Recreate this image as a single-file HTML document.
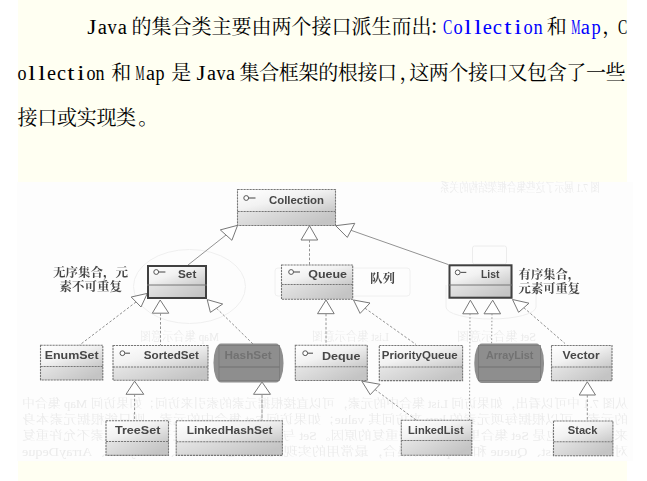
<!DOCTYPE html>
<html lang="zh-CN"><head><meta charset="utf-8"><title>Java 集合类</title>
<style>
html,body{margin:0;padding:0;background:#fff;}
body{width:647px;height:481px;position:relative;overflow:hidden;}
#cream{position:absolute;left:18px;top:0;width:609px;height:481px;background:#fffff2;}
#img{position:absolute;left:17px;top:182px;width:616px;height:279px;background:#fdfdfd;}
.ln{position:absolute;left:0;width:647px;height:30px;white-space:nowrap;color:#000;}
.ln span{position:absolute;top:0;white-space:nowrap;}
.c{font:20px/30px "Noto Serif CJK SC",serif;font-weight:400;}
.l{font:20px/30px "Liberation Serif",serif;text-align:left;margin-top:1px;}
.b{color:#0000ff;}
svg{position:absolute;left:0;top:0;}
.bt{font:bold 11.5px "Liberation Sans",sans-serif;fill:#464646;}
.ft{font:12px "Liberation Serif","Noto Serif CJK SC",serif;fill:#ebebeb;}
.an{font:bold 12.3px "Liberation Serif","Noto Serif CJK SC",serif;fill:#464646;}
</style></head><body>
<div id="cream"></div>
<div id="img"></div>
<div class="ln" style="top:11.0px"><span class="l " style="left:88.40px;width:7.78px;transform-origin:3.90px 50%;transform:scaleX(1.179);">J</span><span class="l " style="left:97.85px;width:8.88px;transform-origin:4.45px 50%;transform:scaleX(1.034);">a</span><span class="l " style="left:107.30px;width:10.00px;transform-origin:5.00px 50%;transform:scaleX(0.920);">v</span><span class="l " style="left:117.85px;width:8.88px;transform-origin:4.45px 50%;transform:scaleX(1.034);">a</span><span class="c " style="left:131.50px;letter-spacing:0.00px">的集合类主要由两个接口派生而出</span><span class="c pn" style="left:429.50px;letter-spacing:0.00px">：</span><span class="l b" style="left:440.95px;width:13.34px;transform-origin:6.65px 50%;transform:scaleX(0.692);">C</span><span class="l b" style="left:452.60px;width:10.00px;transform-origin:5.00px 50%;transform:scaleX(0.920);">o</span><span class="l b" style="left:464.80px;width:5.56px;transform-origin:2.80px 50%;transform:scaleX(1.300);">l</span><span class="l b" style="left:474.80px;width:5.56px;transform-origin:2.80px 50%;transform:scaleX(1.300);">l</span><span class="l b" style="left:483.15px;width:8.88px;transform-origin:4.45px 50%;transform:scaleX(1.034);">e</span><span class="l b" style="left:493.15px;width:8.88px;transform-origin:4.45px 50%;transform:scaleX(1.034);">c</span><span class="l b" style="left:504.80px;width:5.56px;transform-origin:2.80px 50%;transform:scaleX(1.300);">t</span><span class="l b" style="left:514.80px;width:5.56px;transform-origin:2.80px 50%;transform:scaleX(1.300);">i</span><span class="l b" style="left:522.60px;width:10.00px;transform-origin:5.00px 50%;transform:scaleX(0.920);">o</span><span class="l b" style="left:532.60px;width:10.00px;transform-origin:5.00px 50%;transform:scaleX(0.920);">n</span><span class="c " style="left:546.80px;letter-spacing:0.00px">和</span><span class="l b" style="left:566.70px;width:17.78px;transform-origin:8.90px 50%;transform:scaleX(0.517);">M</span><span class="l b" style="left:581.15px;width:8.88px;transform-origin:4.45px 50%;transform:scaleX(1.034);">a</span><span class="l b" style="left:590.60px;width:10.00px;transform-origin:5.00px 50%;transform:scaleX(0.920);">p</span><span class="c pn" style="left:602.30px;letter-spacing:0.00px">，</span><span class="l " style="left:615.65px;width:13.34px;transform-origin:6.65px 50%;transform:scaleX(0.692);">C</span></div>
<div class="ln" style="top:56.6px"><span class="l " style="left:16.90px;width:10.00px;transform-origin:5.00px 50%;transform:scaleX(0.902);">o</span><span class="l " style="left:28.90px;width:5.56px;transform-origin:2.80px 50%;transform:scaleX(1.300);">l</span><span class="l " style="left:38.70px;width:5.56px;transform-origin:2.80px 50%;transform:scaleX(1.300);">l</span><span class="l " style="left:46.85px;width:8.88px;transform-origin:4.45px 50%;transform:scaleX(1.013);">e</span><span class="l " style="left:56.65px;width:8.88px;transform-origin:4.45px 50%;transform:scaleX(1.013);">c</span><span class="l " style="left:68.10px;width:5.56px;transform-origin:2.80px 50%;transform:scaleX(1.300);">t</span><span class="l " style="left:77.90px;width:5.56px;transform-origin:2.80px 50%;transform:scaleX(1.300);">i</span><span class="l " style="left:85.50px;width:10.00px;transform-origin:5.00px 50%;transform:scaleX(0.902);">o</span><span class="l " style="left:95.30px;width:10.00px;transform-origin:5.00px 50%;transform:scaleX(0.902);">n</span><span class="c " style="left:111.20px;letter-spacing:0.00px">和</span><span class="l " style="left:131.40px;width:17.78px;transform-origin:8.90px 50%;transform:scaleX(0.507);">M</span><span class="l " style="left:145.65px;width:8.88px;transform-origin:4.45px 50%;transform:scaleX(1.013);">a</span><span class="l " style="left:154.90px;width:10.00px;transform-origin:5.00px 50%;transform:scaleX(0.902);">p</span><span class="c " style="left:171.20px;letter-spacing:0.00px">是</span><span class="l " style="left:197.40px;width:7.78px;transform-origin:3.90px 50%;transform:scaleX(1.156);">J</span><span class="l " style="left:206.65px;width:8.88px;transform-origin:4.45px 50%;transform:scaleX(1.013);">a</span><span class="l " style="left:215.90px;width:10.00px;transform-origin:5.00px 50%;transform:scaleX(0.902);">v</span><span class="l " style="left:226.25px;width:8.88px;transform-origin:4.45px 50%;transform:scaleX(1.013);">a</span><span class="c " style="left:239.60px;letter-spacing:-0.36px">集合框架的根接口</span><span class="c pn" style="left:399.50px;letter-spacing:0.00px">，</span><span class="c " style="left:409.20px;letter-spacing:-0.36px">这两个接口又包含了一些</span></div>
<div class="ln" style="top:102.2px"><span class="c " style="left:17.60px;letter-spacing:-0.30px">接口或实现类</span><span class="c pn" style="left:138.30px;letter-spacing:0.00px">。</span></div>

<svg width="647" height="481" viewBox="0 0 647 481">
<defs>
<linearGradient id="g1" x1="0" y1="0" x2="1" y2="1">
<stop offset="0" stop-color="#ffffff"/><stop offset="0.45" stop-color="#f2f2f2"/><stop offset="1" stop-color="#c8c8c8"/>
</linearGradient>
<linearGradient id="g2" x1="0" y1="0" x2="1" y2="0.4">
<stop offset="0" stop-color="#e6e6e6"/><stop offset="1" stop-color="#c4c4c4"/>
</linearGradient>
<linearGradient id="fg" x1="0" y1="0" x2="1" y2="0"><stop offset="0" stop-color="#f3f3f3"/><stop offset="0.15" stop-color="#e9e9e9"/><stop offset="0.5" stop-color="#eaeaea"/><stop offset="0.75" stop-color="#f4f4f4"/><stop offset="1" stop-color="#f9f9f9"/></linearGradient>
<filter id="soft" x="0" y="0" width="647" height="481" filterUnits="userSpaceOnUse"><feGaussianBlur stdDeviation="0.35"/></filter>
<filter id="bl" x="-10%" y="-10%" width="120%" height="120%"><feGaussianBlur stdDeviation="0.6"/></filter>
</defs>
<g filter="url(#soft)">
<g transform="translate(650.0,0) scale(-1,1)"><text x="22" y="407.6" textLength="606.0" lengthAdjust="spacingAndGlyphs" class="ft" fill="url(#fg)">从图 7.1 中可以看出，如果访问 List 集合中的元素，可以直接根据元素的索引来访问；如果访问 Map 集合中</text></g>
<g transform="translate(650.0,0) scale(-1,1)"><text x="22" y="423.8" textLength="606.0" lengthAdjust="spacingAndGlyphs" class="ft" fill="url(#fg)">的元素，可以根据每项元素的 key 来访问其 value；如果访问 Set 集合中的元素，则只能根据元素本身</text></g>
<g transform="translate(650.0,0) scale(-1,1)"><text x="22" y="439.8" textLength="606.0" lengthAdjust="spacingAndGlyphs" class="ft" fill="url(#fg)">来访问，这也是 Set 集合里元素不允许重复的原因。Set 与 List 的不同之处在于集合里元素不允许重复</text></g>
<g transform="translate(650.0,0) scale(-1,1)"><text x="22" y="455.6" textLength="606.0" lengthAdjust="spacingAndGlyphs" class="ft" fill="url(#fg)">对于 Set、List、Queue 和 Map 四种集合，最常用的实现类分别是 HashSet、ArrayList、ArrayDeque</text></g>
<g transform="translate(1040.0,0) scale(-1,1)"><text x="440" y="192.0" textLength="160.0" lengthAdjust="spacingAndGlyphs" class="ft">图 7.1 展示了这些集合框架结构的关系</text></g>
<g transform="translate(359.0,0) scale(-1,1)"><text x="140" y="341.0" textLength="79.0" lengthAdjust="spacingAndGlyphs" class="ft">Map 集合示意图</text></g>
<g transform="translate(701.0,0) scale(-1,1)"><text x="312" y="341.0" textLength="77.0" lengthAdjust="spacingAndGlyphs" class="ft">List 集合示意图</text></g>
<g transform="translate(993.0,0) scale(-1,1)"><text x="457" y="341.0" textLength="79.0" lengthAdjust="spacingAndGlyphs" class="ft" fill="#dedede">Set 集合示意图</text></g>
<ellipse cx="189.5" cy="286.5" rx="56" ry="37" fill="none" stroke="#efefef" stroke-width="1"/>
<rect x="472.5" y="246" width="34" height="18" rx="2" fill="none" stroke="#ececec" stroke-width="1"/>
<path d="M446 285 V307 A45 12 0 0 0 536 307 V285" fill="none" stroke="#eeeeee" stroke-width="1"/>
<rect x="275" y="268" width="135" height="28" rx="3" fill="none" stroke="#f0f0f0" stroke-width="1"/>
<line x1="188" y1="265" x2="226" y2="235" stroke="#929292" stroke-width="1"/>
<polygon points="237.6,225.3 220.3,229.9 231.9,240.3" fill="#fff" stroke="#777" stroke-width="1"/>
<polygon points="309.5,225.7 301,240 317.7,240" fill="#fff" stroke="#777" stroke-width="1"/>
<line x1="309.5" y1="240" x2="309.5" y2="265" stroke="#929292" stroke-width="1" stroke-dasharray="2.6 1.8"/>
<line x1="351" y1="230.3" x2="448.2" y2="264.5" stroke="#929292" stroke-width="1"/>
<polygon points="335.7,225.7 354.8,223.3 347.3,237.4" fill="#fff" stroke="#777" stroke-width="1"/>
<line x1="136" y1="302" x2="79.3" y2="345.3" stroke="#929292" stroke-width="1" stroke-dasharray="2.6 1.8"/>
<polygon points="147.3,293.4 131.2,297 141,307" fill="#fff" stroke="#777" stroke-width="1"/>
<polygon points="160.2,300 152.3,313.2 168.8,313.2" fill="#fff" stroke="#777" stroke-width="1"/>
<line x1="160.5" y1="313.2" x2="160.5" y2="345.5" stroke="#929292" stroke-width="1" stroke-dasharray="2.6 1.8"/>
<line x1="216.5" y1="308.2" x2="253" y2="344" stroke="#929292" stroke-width="1" stroke-dasharray="2.6 1.8"/>
<polygon points="207.2,299.6 222.7,304 210.4,312.4" fill="#fff" stroke="#777" stroke-width="1"/>
<polygon points="326,300 317.5,313.7 334.2,313.7" fill="#fff" stroke="#777" stroke-width="1"/>
<line x1="326" y1="313.7" x2="326" y2="345.3" stroke="#929292" stroke-width="1" stroke-dasharray="2.6 1.8"/>
<line x1="365" y1="308.2" x2="416" y2="344.5" stroke="#929292" stroke-width="1" stroke-dasharray="2.6 1.8"/>
<polygon points="353.5,300 370,303 360.1,313.4" fill="#fff" stroke="#777" stroke-width="1"/>
<polygon points="470.4,300.2 462.7,313.8 478.3,313.8" fill="#fff" stroke="#777" stroke-width="1"/>
<line x1="470" y1="313.8" x2="469.5" y2="420" stroke="#929292" stroke-width="1" stroke-dasharray="1.5 2"/>
<polygon points="492.7,300.2 484,313.8 500.6,313.8" fill="#fff" stroke="#777" stroke-width="1"/>
<line x1="492" y1="313.8" x2="491.6" y2="344" stroke="#929292" stroke-width="1" stroke-dasharray="1.5 2"/>
<line x1="523.8" y1="307.7" x2="565" y2="343.5" stroke="#929292" stroke-width="1" stroke-dasharray="2.6 1.8"/>
<polygon points="512.5,299.5 529,303.2 518.6,312.3" fill="#fff" stroke="#777" stroke-width="1"/>
<polygon points="134.6,381.2 126,394.3 143.8,394.3" fill="#fff" stroke="#777" stroke-width="1"/>
<line x1="134.6" y1="394.3" x2="134.6" y2="420.8" stroke="#929292" stroke-width="1" stroke-dasharray="2.6 1.8"/>
<polygon points="262,382 253.5,394.3 270.5,394.3" fill="#fff" stroke="#777" stroke-width="1"/>
<line x1="262" y1="394.3" x2="262" y2="420.8" stroke="#929292" stroke-width="1" stroke-dasharray="4 1"/>
<line x1="375" y1="389.5" x2="416" y2="420" stroke="#929292" stroke-width="1" stroke-dasharray="2.6 1.8"/>
<polygon points="361.8,381.1 380,384.3 370.2,394.7" fill="#fff" stroke="#777" stroke-width="1"/>
<polygon points="587.3,381.8 579.2,395 595.5,395" fill="#fff" stroke="#777" stroke-width="1"/>
<line x1="587.3" y1="395" x2="587.3" y2="421" stroke="#929292" stroke-width="1" stroke-dasharray="2.6 1.8"/>
<rect x="237.5" y="189.5" width="98.0" height="22.0" fill="url(#g1)"/><rect x="237.5" y="211.5" width="98.0" height="14.0" fill="url(#g2)"/><rect x="237.5" y="189.5" width="98.0" height="36.0" fill="none" stroke="#777" stroke-width="1.1" stroke-dasharray="2.2 0.8"/><line x1="237.5" y1="211.5" x2="335.5" y2="211.5" stroke="#777" stroke-width="1.1" stroke-dasharray="2.2 0.8"/><circle cx="246.2" cy="198" r="2.4" fill="#fff" stroke="#555" stroke-width="1"/><line x1="248.9" y1="198" x2="255.5" y2="198" stroke="#555" stroke-width="1.1"/><text x="269" y="204" textLength="55.0" lengthAdjust="spacingAndGlyphs" class="bt">Collection</text>
<rect x="147" y="265" width="60" height="20" fill="url(#g1)"/><rect x="147" y="285" width="60" height="14" fill="url(#g2)"/><rect x="148" y="266" width="58" height="32" fill="none" stroke="#404040" stroke-width="2"/><line x1="147" y1="285" x2="207" y2="285" stroke="#777" stroke-width="1"/><circle cx="156.2" cy="272" r="2.4" fill="#fff" stroke="#555" stroke-width="1"/><line x1="158.9" y1="272" x2="165.4" y2="272" stroke="#555" stroke-width="1.1"/><text x="178" y="278" textLength="18.3" lengthAdjust="spacingAndGlyphs" class="bt">Set</text>
<rect x="281.5" y="265" width="71.19999999999999" height="19.5" fill="url(#g1)"/><rect x="281.5" y="284.5" width="71.19999999999999" height="14.800000000000011" fill="url(#g2)"/><rect x="281.5" y="265" width="71.19999999999999" height="34.30000000000001" fill="none" stroke="#777" stroke-width="1.1" stroke-dasharray="2.2 0.8"/><line x1="281.5" y1="284.5" x2="352.7" y2="284.5" stroke="#777" stroke-width="1.1" stroke-dasharray="2.2 0.8"/><circle cx="291.1" cy="272" r="2.4" fill="#fff" stroke="#555" stroke-width="1"/><line x1="293.8" y1="272" x2="300" y2="272" stroke="#555" stroke-width="1.1"/><text x="308.2" y="278.3" textLength="38.8" lengthAdjust="spacingAndGlyphs" class="bt">Queue</text>
<rect x="448.5" y="264.3" width="64.0" height="20.69999999999999" fill="url(#g1)"/><rect x="448.5" y="285" width="64.0" height="13.699999999999989" fill="url(#g2)"/><rect x="449.5" y="265.3" width="62.0" height="32.39999999999998" fill="none" stroke="#404040" stroke-width="2"/><line x1="448.5" y1="285" x2="512.5" y2="285" stroke="#777" stroke-width="1"/><circle cx="457.7" cy="272.4" r="2.4" fill="#fff" stroke="#555" stroke-width="1"/><line x1="460.4" y1="272.4" x2="466.3" y2="272.4" stroke="#555" stroke-width="1.1"/><text x="481" y="278" textLength="18.4" lengthAdjust="spacingAndGlyphs" class="bt">List</text>
<rect x="40.5" y="345.3" width="62.3" height="21.19999999999999" fill="url(#g1)"/><rect x="40.5" y="366.5" width="62.3" height="13.5" fill="url(#g2)"/><rect x="40.5" y="345.3" width="62.3" height="34.69999999999999" fill="none" stroke="#777" stroke-width="1.1" stroke-dasharray="2.2 0.8"/><line x1="40.5" y1="366.5" x2="102.8" y2="366.5" stroke="#777" stroke-width="1.1" stroke-dasharray="2.2 0.8"/><text x="44.7" y="359.3" textLength="53.9" lengthAdjust="spacingAndGlyphs" class="bt">EnumSet</text>
<rect x="113" y="345.5" width="95" height="21.5" fill="url(#g1)"/><rect x="113" y="367" width="95" height="13.199999999999989" fill="url(#g2)"/><rect x="113" y="345.5" width="95" height="34.69999999999999" fill="none" stroke="#777" stroke-width="1.1" stroke-dasharray="2.2 0.8"/><line x1="113" y1="367" x2="208" y2="367" stroke="#777" stroke-width="1.1" stroke-dasharray="2.2 0.8"/><circle cx="122.4" cy="353.2" r="2.4" fill="#fff" stroke="#555" stroke-width="1"/><line x1="125.1" y1="353.2" x2="130" y2="353.2" stroke="#555" stroke-width="1.1"/><text x="143.8" y="359.2" textLength="55.2" lengthAdjust="spacingAndGlyphs" class="bt">SortedSet</text>
<rect x="213.5" y="343.5" width="70.0" height="39.0" rx="7.5" ry="19" fill="#8e8e8e" filter="url(#bl)"/><rect x="219" y="345.5" width="60.5" height="35.0" fill="none" stroke="#7a7a7a" stroke-width="0.8"/><line x1="219" y1="367" x2="279.5" y2="367" stroke="#707070" stroke-width="1"/><text x="224.6" y="359.3" textLength="47.0" lengthAdjust="spacingAndGlyphs" class="bt" style="fill:#727272">HashSet</text>
<rect x="295.3" y="345.3" width="72.0" height="21.5" fill="url(#g1)"/><rect x="295.3" y="366.8" width="72.0" height="13.699999999999989" fill="url(#g2)"/><rect x="295.3" y="345.3" width="72.0" height="35.19999999999999" fill="none" stroke="#777" stroke-width="1.1" stroke-dasharray="2.2 0.8"/><line x1="295.3" y1="366.8" x2="367.3" y2="366.8" stroke="#777" stroke-width="1.1" stroke-dasharray="2.2 0.8"/><circle cx="305.2" cy="353.2" r="2.4" fill="#fff" stroke="#555" stroke-width="1"/><line x1="307.9" y1="353.2" x2="313" y2="353.2" stroke="#555" stroke-width="1.1"/><text x="322" y="359.5" textLength="38.4" lengthAdjust="spacingAndGlyphs" class="bt">Deque</text>
<rect x="379.3" y="345.5" width="83.30000000000001" height="21.5" fill="url(#g1)"/><rect x="379.3" y="367" width="83.30000000000001" height="13.600000000000023" fill="url(#g2)"/><rect x="379.3" y="345.5" width="83.30000000000001" height="35.10000000000002" fill="none" stroke="#777" stroke-width="1.1" stroke-dasharray="2.2 0.8"/><line x1="379.3" y1="367" x2="462.6" y2="367" stroke="#777" stroke-width="1.1" stroke-dasharray="2.2 0.8"/><text x="381.8" y="359" textLength="75.9" lengthAdjust="spacingAndGlyphs" class="bt">PriorityQueue</text>
<rect x="474.3" y="343.5" width="69.69999999999999" height="39.5" rx="7.5" ry="19" fill="#8e8e8e" filter="url(#bl)"/><rect x="478.5" y="345.5" width="61.89999999999998" height="35.0" fill="none" stroke="#7a7a7a" stroke-width="0.8"/><line x1="478.5" y1="367" x2="540.4" y2="367" stroke="#707070" stroke-width="1"/><text x="486" y="359" textLength="47.4" lengthAdjust="spacingAndGlyphs" class="bt" style="fill:#727272">ArrayList</text>
<rect x="551.5" y="345.5" width="60.5" height="21.5" fill="url(#g1)"/><rect x="551.5" y="367" width="60.5" height="13.600000000000023" fill="url(#g2)"/><rect x="551.5" y="345.5" width="60.5" height="35.10000000000002" fill="none" stroke="#777" stroke-width="1.1" stroke-dasharray="2.2 0.8"/><line x1="551.5" y1="367" x2="612" y2="367" stroke="#777" stroke-width="1.1" stroke-dasharray="2.2 0.8"/><text x="562.6" y="359" textLength="37.1" lengthAdjust="spacingAndGlyphs" class="bt">Vector</text>
<rect x="106" y="420.8" width="62.5" height="20.69999999999999" fill="url(#g1)"/><rect x="106" y="441.5" width="62.5" height="13.899999999999977" fill="url(#g2)"/><rect x="106" y="420.8" width="62.5" height="34.599999999999966" fill="none" stroke="#777" stroke-width="1.1" stroke-dasharray="2.2 0.8"/><line x1="106" y1="441.5" x2="168.5" y2="441.5" stroke="#777" stroke-width="1.1" stroke-dasharray="2.2 0.8"/><text x="115" y="434.4" textLength="45.4" lengthAdjust="spacingAndGlyphs" class="bt">TreeSet</text>
<rect x="176.2" y="420.8" width="106.19999999999999" height="21.0" fill="url(#g1)"/><rect x="176.2" y="441.8" width="106.19999999999999" height="13.599999999999966" fill="url(#g2)"/><rect x="176.2" y="420.8" width="106.19999999999999" height="34.599999999999966" fill="none" stroke="#777" stroke-width="1.1" stroke-dasharray="2.2 0.8"/><line x1="176.2" y1="441.8" x2="282.4" y2="441.8" stroke="#777" stroke-width="1.1" stroke-dasharray="2.2 0.8"/><text x="186.7" y="434.4" textLength="85.8" lengthAdjust="spacingAndGlyphs" class="bt">LinkedHashSet</text>
<rect x="401.3" y="420.2" width="70.5" height="20.30000000000001" fill="url(#g1)"/><rect x="401.3" y="440.5" width="70.5" height="14.800000000000011" fill="url(#g2)"/><rect x="401.3" y="420.2" width="70.5" height="35.10000000000002" fill="none" stroke="#777" stroke-width="1.1" stroke-dasharray="2.2 0.8"/><line x1="401.3" y1="440.5" x2="471.8" y2="440.5" stroke="#777" stroke-width="1.1" stroke-dasharray="2.2 0.8"/><text x="408" y="433.8" textLength="55.6" lengthAdjust="spacingAndGlyphs" class="bt">LinkedList</text>
<rect x="553.5" y="421" width="59.39999999999998" height="20.69999999999999" fill="url(#g1)"/><rect x="553.5" y="441.7" width="59.39999999999998" height="14.0" fill="url(#g2)"/><rect x="553.5" y="421" width="59.39999999999998" height="34.69999999999999" fill="none" stroke="#777" stroke-width="1.1" stroke-dasharray="2.2 0.8"/><line x1="553.5" y1="441.7" x2="612.9" y2="441.7" stroke="#777" stroke-width="1.1" stroke-dasharray="2.2 0.8"/><text x="567.8" y="434.3" textLength="29.7" lengthAdjust="spacingAndGlyphs" class="bt">Stack</text>
<text x="53" y="277.0" textLength="75.0" lengthAdjust="spacingAndGlyphs" class="an">无序集合，元</text>
<text x="59.6" y="290.6" textLength="62.4" lengthAdjust="spacingAndGlyphs" class="an">素不可重复</text>
<text x="370" y="283.1" textLength="25.0" lengthAdjust="spacingAndGlyphs" class="an">队列</text>
<text x="518.6" y="279.0" textLength="61.6" lengthAdjust="spacingAndGlyphs" class="an">有序集合，</text>
<text x="518.6" y="293.3" textLength="61.6" lengthAdjust="spacingAndGlyphs" class="an">元素可重复</text>
</g>
</svg>
</body></html>
